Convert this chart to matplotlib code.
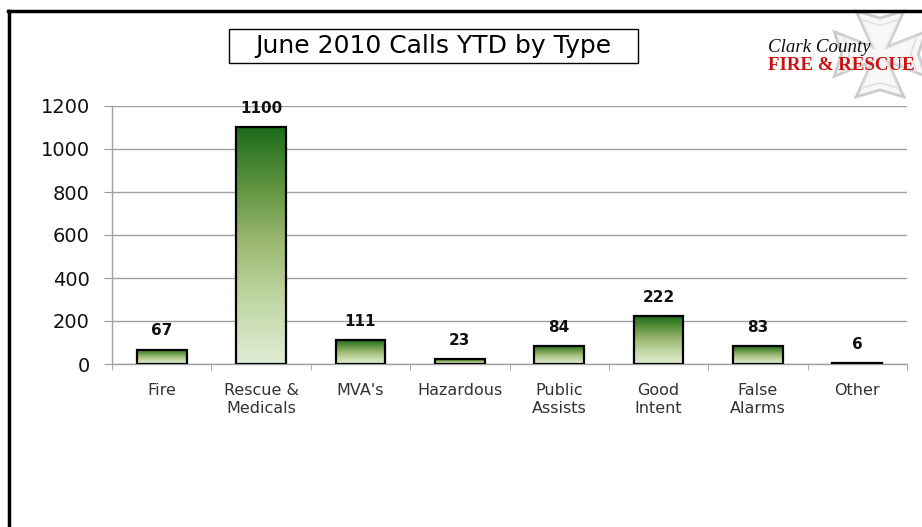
import numpy as np
import matplotlib
matplotlib.use("Agg")
import matplotlib.pyplot as plt
from matplotlib.colors import LinearSegmentedColormap
from matplotlib.lines import Line2D
from matplotlib.patches import Polygon, Rectangle

categories = ["Fire", "Rescue &\nMedicals", "MVA's", "Hazardous", "Public\nAssists",
              "Good\nIntent", "False\nAlarms", "Other"]
calls = [67, 1100, 111, 23, 84, 222, 83, 6]
yticks = [0, 200, 400, 600, 800, 1000, 1200]
title = "June 2010 Calls YTD by Type"

W, H = 922, 527
fig = plt.figure(figsize=(W / 100, H / 100), dpi=100)
ax = fig.add_axes([112 / W, 1 - 364 / H, (907 - 112) / W, (364 - 106) / H])

green = LinearSegmentedColormap.from_list(
    "grn", ["#e0ecd4", "#c3d9a8", "#9fba74", "#5f9440", "#1c6b1c"])
grad = np.linspace(0, 1, 256).reshape(-1, 1)

bw = 0.5
for i, v in enumerate(calls):
    x0 = i - bw / 2
    im = ax.imshow(grad, cmap=green, origin="lower", aspect="auto",
                   extent=[x0, x0 + bw, 0, v], zorder=3)
    r = Rectangle((x0, 0), bw, v, fill=False, ec="black", lw=1.6, zorder=4)
    ax.add_patch(r)
    im.set_clip_path(r)
    ax.annotate(str(v), (i, v), xytext=(0, 8), textcoords="offset points",
                ha="center", va="bottom", fontsize=11, fontweight="bold",
                color="#111111")

ax.set_xlim(-0.5, len(calls) - 0.5)
ax.set_ylim(0, 1200)
ax.set_yticks(yticks)
ax.set_yticklabels([str(t) for t in yticks], fontsize=14, color="#111111")
ax.set_xticks(range(len(calls)))
ax.set_xticklabels(categories, fontsize=11.5, color="#333333", linespacing=1.2, va="top")
ax.set_xticks(np.arange(-0.5, len(calls), 1.0), minor=True)
ax.tick_params(axis="x", which="major", length=0, pad=14)
ax.tick_params(axis="x", which="minor", length=4, color="#999999", direction="out")
ax.tick_params(axis="y", length=6, color="#999999", pad=10)
ax.grid(axis="y", color="#a0a0a0", lw=1, zorder=0)
ax.set_axisbelow(True)
for s in ["top", "right"]:
    ax.spines[s].set_visible(False)
for s in ["left", "bottom"]:
    ax.spines[s].set_color("#a0a0a0")
    ax.spines[s].set_linewidth(1)

# title box
fig.add_artist(Rectangle((229 / W, 1 - 63 / H), 409 / W, 34 / H, transform=fig.transFigure,
                         fc="white", ec="black", lw=1))
fig.text(433.5 / W, 1 - 46.5 / H, title, ha="center", va="center", fontsize=18)

# slide frame
fig.add_artist(Line2D([8 / W, 1], [1 - 11 / H] * 2, transform=fig.transFigure,
                      color="black", lw=2.5))
fig.add_artist(Line2D([9 / W] * 2, [0, 1 - 11 / H], transform=fig.transFigure,
                      color="black", lw=2.5))

# logo: maltese cross + text
lax = fig.add_axes([832 / W, 1 - 99 / H, 96 / W, 90 / H])
lax.set_xlim(-1.05, 1.05)
lax.set_ylim(-1.05, 1.05)
lax.axis("off")
arm = np.array([[-0.17, 0.17], [-0.52, 1.0], [0.0, 0.84], [0.52, 1.0], [0.17, 0.17]])
pts = []
for k in range(4):
    a = -k * np.pi / 2
    rot = np.array([[np.cos(a), -np.sin(a)], [np.sin(a), np.cos(a)]])
    pts.extend(arm @ rot.T)
pts = np.array(pts)
lax.add_patch(Polygon(pts, closed=True, fc="#f7f7f7", ec="#cccccc", lw=2))
lax.add_patch(Polygon(pts * 0.8, closed=True, fill=False, ec="#dddddd", lw=1))
fig.text(768 / W, 1 - 48 / H, "Clark County", fontsize=13.6, style="italic",
         family="Liberation Serif", ha="left", va="center", color="#111111")
fig.text(768 / W, 1 - 65 / H, "FIRE & RESCUE", fontsize=13.6, fontweight="bold",
         family="Liberation Serif", ha="left", va="center", color="#cc1111")

fig.savefig("out.png", dpi=100)
